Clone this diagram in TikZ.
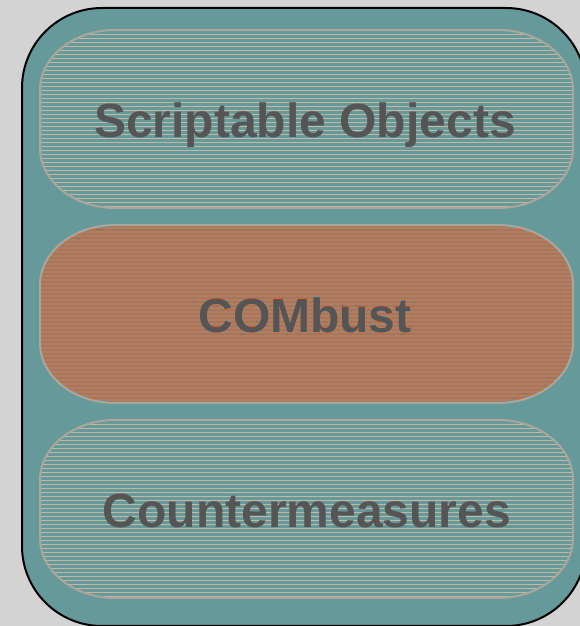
\documentclass[tikz,border=0pt]{standalone}
\usepackage{fontspec}
\setmainfont{Liberation Sans}
\definecolor{bggray}{HTML}{D3D3D3}
\definecolor{teal}{HTML}{669999}
\definecolor{tanline}{HTML}{C4B8A4}
\definecolor{orangeline}{HTML}{F55A22}
\definecolor{boxborder}{HTML}{ABA69C}
\definecolor{txt}{HTML}{555555}
\tikzset{
  lbl/.style={font=\fontsize{48}{50}\selectfont\bfseries, text=txt, inner sep=0pt, anchor=base},
}
% rounded box with elliptical corners: #1 left, #2 bottom, #3 right, #4 top
\newcommand{\ellbox}[4]{(#1+75,#4) -- (#3-75,#4) arc[start angle=90,end angle=0,x radius=75,y radius=60] -- (#3,#2+60) arc[start angle=0,end angle=-90,x radius=75,y radius=60] -- (#1+75,#2) arc[start angle=270,end angle=180,x radius=75,y radius=60] -- (#1,#4-60) arc[start angle=180,end angle=90,x radius=75,y radius=60] -- cycle}
\begin{document}
\begin{tikzpicture}[x=1pt,y=1pt]
\fill[bggray] (0,0) rectangle (580,626);
\useasboundingbox (0,0) rectangle (580,626);
\begin{scope}
\clip (0,0) rectangle (580,626);
\draw[fill=teal, line width=2pt, rounded corners=80pt] (22,0) rectangle (586,618);
\end{scope}
% boxes: y in picture coords (flipped)
\foreach \b/\t/\c/\lw in {418/596/tanline/1.0, 223/401/orangeline/1.7, 28/206/tanline/1.0}{
  \begin{scope}
    \clip \ellbox{40}{\b}{573}{\t};
    \foreach \yy in {0,4,...,180}{
      \draw[\c, line width=\lw pt] (40,\b+\yy+1) -- (573,\b+\yy+1);
    }
  \end{scope}
  \draw[boxborder, line width=2pt] \ellbox{40}{\b}{573}{\t};
}
\node[lbl] (so) at (305,488) {Scriptable Objects};
\node[lbl] (cb) at (305,293) {COMbust};
\node[lbl] (cm) at (307,98) {Countermeasures};
\end{tikzpicture}
\end{document}
